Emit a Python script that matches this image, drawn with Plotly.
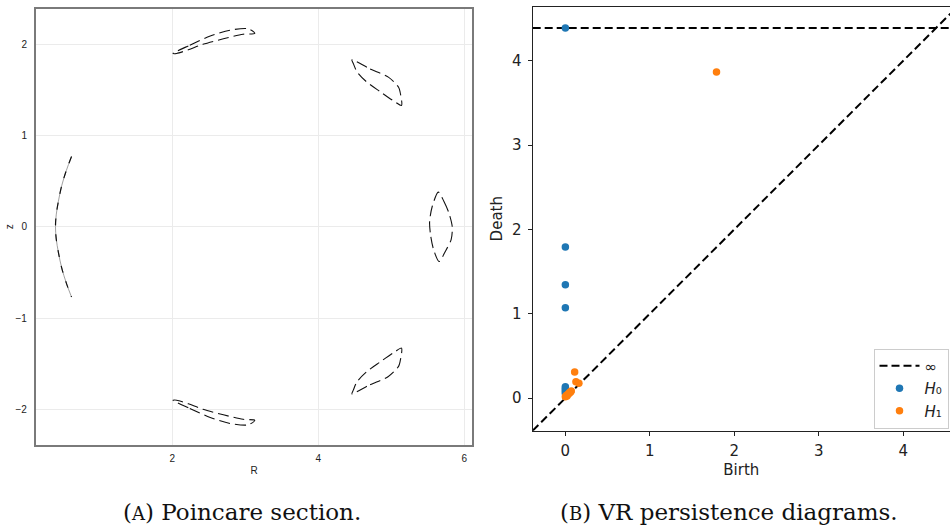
import math
import plotly.graph_objects as go

# ---------------- Poincare section: orbit islands in the (R, z) plane ----------------
island_top_R = [2.01, 2.24, 2.52, 2.79, 3.04, 3.13, 2.97, 2.70, 2.42, 2.22, 2.06, 2.01]
island_top_z = [1.90, 1.99, 2.09, 2.155, 2.17, 2.12, 2.11, 2.06, 2.00, 1.94, 1.90, 1.90]

island_bot_R = [2.01, 2.24, 2.52, 2.79, 3.04, 3.13, 2.97, 2.70, 2.42, 2.22, 2.06, 2.01]
island_bot_z = [-1.90, -1.99, -2.09, -2.155, -2.17, -2.12, -2.11, -2.06, -2.00, -1.94, -1.90, -1.90]

island_ur_R = [4.46, 4.71, 4.96, 5.10, 5.12, 5.14, 5.05, 4.85, 4.66, 4.53, 4.48, 4.46]
island_ur_z = [1.83, 1.73, 1.64, 1.53, 1.48, 1.33, 1.37, 1.48, 1.59, 1.70, 1.79, 1.83]

island_lr_R = [4.46, 4.71, 4.96, 5.10, 5.12, 5.14, 5.05, 4.85, 4.66, 4.53, 4.48, 4.46]
island_lr_z = [-1.83, -1.73, -1.64, -1.53, -1.48, -1.33, -1.37, -1.48, -1.59, -1.70, -1.79, -1.83]

island_right_R = [5.645, 5.72, 5.79, 5.835, 5.82, 5.74, 5.655, 5.58, 5.54, 5.525, 5.56, 5.645]
island_right_z = [0.38, 0.28, 0.15, 0.0, -0.14, -0.27, -0.38, -0.25, -0.10, 0.05, 0.22, 0.38]

arc_left_R = [0.62, 0.55, 0.485, 0.44, 0.41, 0.40, 0.41, 0.44, 0.485, 0.55, 0.62]
arc_left_z = [0.77, 0.62, 0.45, 0.28, 0.13, 0.0, -0.13, -0.28, -0.45, -0.62, -0.77]

R_ticks = [2, 4, 6]
z_ticks = [-2, -1, 0, 1, 2]

# ---------------- Vietoris-Rips persistence diagrams ----------------
INF = math.inf
h0_birth = [0.0, 0.0, 0.0, 0.0, 0.0, 0.0, 0.0, 0.0, 0.0]
h0_death = [INF, 1.79, 1.344, 1.071, 0.134, 0.115, 0.095, 0.075, 0.055]

h1_birth = [1.789, 0.11, 0.125, 0.16, 0.07, 0.05, 0.03, 0.01, 0.0, 0.02, 0.06, 0.04]
h1_death = [3.867, 0.31, 0.193, 0.175, 0.085, 0.065, 0.045, 0.03, 0.015, 0.025, 0.07, 0.05]

birth_ticks = [0, 1, 2, 3, 4]
death_ticks = [0, 1, 2, 3, 4]

# axis limits in the persim style: finite values padded by a fifth of their span
finite = [v for v in h0_birth + h0_death + h1_birth + h1_death if v != INF]
lo, hi = min(finite), max(finite)
buf = (hi - lo) / 5
pd_low = lo - buf / 2
pd_high = hi + buf
inf_level = pd_low + (pd_high - pd_low) * 0.95

W, H = 950, 532


def px_x(p):
    return p / W


def px_y(p):
    return 1 - p / H


fig = go.Figure()

# islands drawn as dashed closed curves
island_style = dict(color="#111111", width=1.1, dash="11px,5px", shape="spline", smoothing=0.8)
for Rs, zs in [
    (island_top_R, island_top_z),
    (island_bot_R, island_bot_z),
    (island_ur_R, island_ur_z),
    (island_lr_R, island_lr_z),
    (island_right_R, island_right_z),
]:
    fig.add_trace(go.Scatter(x=Rs, y=zs, mode="lines", line=island_style,
                             showlegend=False, hoverinfo="skip", xaxis="x", yaxis="y"))

# the thin inner arc: faint solid trace with darker segments over it
fig.add_trace(go.Scatter(x=arc_left_R, y=arc_left_z, mode="lines",
                         line=dict(color="#888888", width=0.8, shape="spline"),
                         showlegend=False, hoverinfo="skip", xaxis="x", yaxis="y"))
fig.add_trace(go.Scatter(x=arc_left_R, y=arc_left_z, mode="lines",
                         line=dict(color="#111111", width=1.2, shape="spline", dash="7px,9px"),
                         showlegend=False, hoverinfo="skip", xaxis="x", yaxis="y"))

# persistence diagram: diagonal, infinity line and points
fig.add_trace(go.Scatter(x=[pd_low, pd_high], y=[pd_low, pd_high], mode="lines",
                         line=dict(color="black", width=2, dash="8px,4px"),
                         showlegend=False, hoverinfo="skip", xaxis="x2", yaxis="y2"))
fig.add_trace(go.Scatter(x=[pd_low, pd_high], y=[inf_level, inf_level], mode="lines",
                         line=dict(color="black", width=2, dash="8px,4px"),
                         name="\u221e", xaxis="x2", yaxis="y2"))

h0_plot = [inf_level if d == INF else d for d in h0_death]
fig.add_trace(go.Scatter(x=h0_birth, y=h0_plot, mode="markers",
                         marker=dict(color="#1f77b4", size=7.5),
                         name="<i>H</i>\u2080", xaxis="x2", yaxis="y2"))
fig.add_trace(go.Scatter(x=h1_birth, y=h1_death, mode="markers",
                         marker=dict(color="#ff7f0e", size=7.5),
                         name="<i>H</i>\u2081", xaxis="x2", yaxis="y2"))

left_font = dict(family="Liberation Sans, Arial, sans-serif", size=10, color="#222222")
right_font = dict(family="DejaVu Sans, sans-serif", size=15, color="#222222")
caption_font = dict(family="DejaVu Serif, serif", size=23, color="#111111")

fig.update_layout(
    width=W, height=H,
    margin=dict(l=0, r=0, t=0, b=0, autoexpand=False),
    template="none",
    paper_bgcolor="white",
    plot_bgcolor="white",
    showlegend=True,
    xaxis=dict(
        domain=[px_x(35.7), px_x(472.3)], range=[0.129, 6.11],
        tickvals=R_ticks, ticks="", showgrid=True, gridcolor="#ebebeb", gridwidth=1,
        zeroline=False, showline=True, mirror=True, linecolor="#7a7a7a", linewidth=1.5,
        tickfont=left_font, automargin=False, ticklabelstandoff=4, anchor="y",
        title=dict(text="R", font=left_font, standoff=4),
    ),
    yaxis=dict(
        domain=[px_y(444.7), px_y(9)], range=[-2.388, 2.387],
        tickvals=z_ticks, ticks="", showgrid=True, gridcolor="#ebebeb", gridwidth=1,
        zeroline=False, showline=True, mirror=True, linecolor="#7a7a7a", linewidth=1.5,
        tickfont=left_font, automargin=False, ticklabelstandoff=5, anchor="x",
        title=dict(text="z", font=left_font, standoff=0),
    ),
    xaxis2=dict(
        domain=[px_x(532.7), 1.0], range=[pd_low, 4.553],
        tickvals=birth_ticks, ticks="outside", ticklen=4, tickwidth=1.1, tickcolor="#222222",
        showgrid=False, zeroline=False, showline=True, mirror=True,
        linecolor="#222222", linewidth=1.2, tickfont=right_font,
        automargin=False, ticklabelstandoff=2, anchor="y2",
        title=dict(text="Birth", font=right_font, standoff=5),
    ),
    yaxis2=dict(
        domain=[px_y(430.7), px_y(6.7)], range=[pd_low, pd_high],
        tickvals=death_ticks, ticks="outside", ticklen=4, tickwidth=1.1, tickcolor="#222222",
        showgrid=False, zeroline=False, showline=True,
        linecolor="#222222", linewidth=1.2, tickfont=right_font,
        automargin=False, ticklabelstandoff=3, anchor="x2",
        title=dict(text="Death", font=right_font, standoff=5),
    ),
    legend=dict(
        x=px_x(873.5), y=px_y(348.5), xanchor="left", yanchor="top",
        bgcolor="rgba(255,255,255,0.85)", bordercolor="#cccccc", borderwidth=1,
        font=dict(family="DejaVu Sans, sans-serif", size=15, color="#222222"),
        itemwidth=40, tracegroupgap=0,
    ),
)

annotations = [
    dict(text="(<span style='font-size:18px'>A</span>) Poincare section.",
         x=px_x(241.5), y=px_y(512), font=caption_font),
    dict(text="(<span style='font-size:18px'>B</span>) VR persistence diagrams.",
         x=px_x(729), y=px_y(512), font=caption_font),
]
for a in annotations:
    fig.add_annotation(xref="paper", yref="paper", showarrow=False,
                       xanchor="center", yanchor="middle", **a)

fig.write_html("out.html")
